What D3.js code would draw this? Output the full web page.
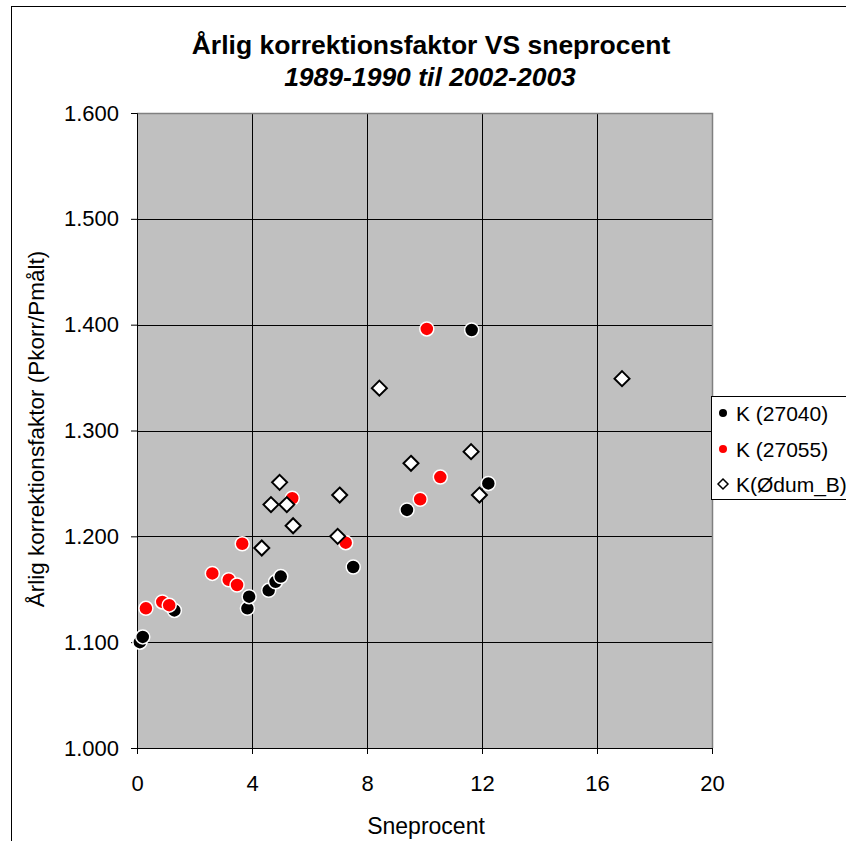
<!DOCTYPE html>
<html><head><meta charset="utf-8">
<script src="https://cdnjs.cloudflare.com/ajax/libs/d3/7.8.5/d3.min.js"></script>
<style>body{margin:0;background:#fff}svg{display:block;font-family:"Liberation Sans",Arial,sans-serif}</style>
</head><body>
<script>
const xTicks = [0, 4, 8, 12, 16, 20];
const yTicks = [1.0, 1.1, 1.2, 1.3, 1.4, 1.5, 1.6];
const seriesNames = ["K (27040)", "K (27055)", "K(Ødum_B)"];
const k27040 = [[0.10,1.100],[0.20,1.105],[1.30,1.130],[3.84,1.132],[3.90,1.143],[4.58,1.149],[4.82,1.157],[5.00,1.162],[7.52,1.171],[9.39,1.225],[11.64,1.395],[12.22,1.250]];
const k27055 = [[0.31,1.132],[0.88,1.138],[1.12,1.135],[2.62,1.165],[3.19,1.159],[3.48,1.154],[3.66,1.193],[5.40,1.236],[7.26,1.194],[9.85,1.235],[10.08,1.396],[10.55,1.256]];
const kOdum = [[4.34,1.189],[4.66,1.230],[4.96,1.251],[5.21,1.230],[5.43,1.210],[6.98,1.200],[7.05,1.239],[8.43,1.340],[9.53,1.269],[11.62,1.280],[11.91,1.239],[16.87,1.349]];

const W = 846, H = 841;
const m = {left:137, right:712, top:113, bottom:748};
const svg = d3.select("body").append("svg").attr("width", W).attr("height", H);

// outer chart border
svg.append("rect").attr("x",11.5).attr("y",6.5).attr("width",W).attr("height",H).attr("fill","none").attr("stroke","#000").attr("stroke-width",1);

const x = d3.scaleLinear().domain([0,20]).range([m.left, m.right]);
const y = d3.scaleLinear().domain([1.0,1.6]).range([m.bottom, m.top]);

svg.append("rect").attr("x",m.left).attr("y",m.top).attr("width",m.right-m.left).attr("height",m.bottom-m.top).attr("fill","#c0c0c0");

// gridlines
svg.append("g").selectAll("line").data(xTicks.filter(d=>d>0&&d<20)).join("line")
  .attr("x1",d=>Math.round(x(d))+0.5).attr("x2",d=>Math.round(x(d))+0.5).attr("y1",m.top).attr("y2",m.bottom).attr("stroke","#000");
svg.append("g").selectAll("line").data(yTicks.filter(d=>d>1.0&&d<1.6)).join("line")
  .attr("y1",d=>Math.round(y(d))+0.5).attr("y2",d=>Math.round(y(d))+0.5).attr("x1",m.left).attr("x2",m.right).attr("stroke","#000");

// plot border top/right gray
svg.append("path").attr("d",`M${m.left},${m.top+0.5}H${m.right+0.5}V${m.bottom}`).attr("fill","none").attr("stroke","#808080").attr("stroke-width",1.5);

// axes
const xAxis = d3.axisBottom(x).tickValues(xTicks).tickSize(6).tickPadding(21).tickFormat(d3.format("d"));
const gx = svg.append("g").attr("transform",`translate(0,${m.bottom})`).call(xAxis);
const yAxis = d3.axisLeft(y).tickValues(yTicks).tickSize(6).tickPadding(12).tickFormat(d3.format(".3f"));
const gy = svg.append("g").attr("transform",`translate(${m.left},0)`).call(yAxis);
[gx,gy].forEach(g=>{
  g.select(".domain").attr("stroke","#000");
  g.selectAll(".tick line").attr("stroke","#000");
  g.selectAll("text").attr("font-family","Liberation Sans, Arial, sans-serif").attr("font-size",22).attr("fill","#000");
});
gx.select(".domain").attr("d",`M${m.left},0.5H${m.right}`);

// points
const gp = svg.append("g");
gp.selectAll("circle.b").data(k27040).join("circle").attr("class","b")
  .attr("cx",d=>x(d[0])).attr("cy",d=>y(d[1])).attr("r",7).attr("fill","#000").attr("stroke","#fff").attr("stroke-width",1.5);
gp.selectAll("circle.r").data(k27055).join("circle").attr("class","r")
  .attr("cx",d=>x(d[0])).attr("cy",d=>y(d[1])).attr("r",7).attr("fill","#ff0000").attr("stroke","#fff").attr("stroke-width",1.5);
const dia = s => `M0,${-s}L${s},0L0,${s}L${-s},0Z`;
gp.selectAll("path.d").data(kOdum).join("path").attr("class","d")
  .attr("transform",d=>`translate(${x(d[0])},${y(d[1])})`).attr("d",dia(7.5)).attr("fill","#fff").attr("stroke","#000").attr("stroke-width",2);

// titles
svg.append("text").attr("x",431).attr("y",54).attr("text-anchor","middle").attr("font-size",26.5).attr("font-weight","bold").text("Årlig korrektionsfaktor VS sneprocent");
svg.append("text").attr("x",430).attr("y",86).attr("text-anchor","middle").attr("font-size",26.5).attr("font-weight","bold").attr("font-style","italic").text("1989-1990 til 2002-2003");
svg.append("text").attr("x",426).attr("y",834).attr("text-anchor","middle").attr("font-size",23).text("Sneprocent");
svg.append("text").attr("transform","translate(44,429) rotate(-90)").attr("text-anchor","middle").attr("font-size",22.5).text("Årlig korrektionsfaktor (Pkorr/Pmålt)");

// legend
const lg = svg.append("g");
lg.append("rect").attr("x",711.5).attr("y",396.5).attr("width",200).attr("height",103).attr("fill","#fff").attr("stroke","#000");
const ly = [413, 449, 484];
lg.append("circle").attr("cx",723).attr("cy",ly[0]).attr("r",4).attr("fill","#000");
lg.append("circle").attr("cx",723).attr("cy",ly[1]).attr("r",4).attr("fill","#ff0000");
lg.append("path").attr("transform",`translate(723,${ly[2]})`).attr("d",dia(5)).attr("fill","#fff").attr("stroke","#000").attr("stroke-width",1.5);
lg.selectAll("text").data(seriesNames).join("text").attr("x",736).attr("y",(d,i)=>ly[i]+8).attr("font-size",21).text(d=>d);
</script>
</body></html>
